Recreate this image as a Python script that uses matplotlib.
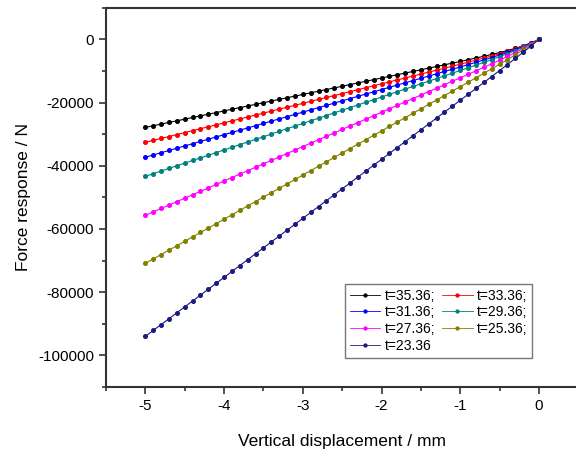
import matplotlib
matplotlib.use('Agg')
import matplotlib.pyplot as plt
from matplotlib.ticker import MultipleLocator

plt.rcParams['font.family'] = ['Liberation Sans', 'DejaVu Sans']
plt.rcParams['axes.unicode_minus'] = False

# vertical displacement (mm)
disp = [-5.0, -4.9, -4.8, -4.7, -4.6, -4.5, -4.4, -4.3, -4.2, -4.1,
        -4.0, -3.9, -3.8, -3.7, -3.6, -3.5, -3.4, -3.3, -3.2, -3.1,
        -3.0, -2.9, -2.8, -2.7, -2.6, -2.5, -2.4, -2.3, -2.2, -2.1,
        -2.0, -1.9, -1.8, -1.7, -1.6, -1.5, -1.4, -1.3, -1.2, -1.1,
        -1.0, -0.9, -0.8, -0.7, -0.6, -0.5, -0.4, -0.3, -0.2, -0.1, 0.0]

# force response (N) for each thickness
f_3536 = [-27850, -27330, -26810, -26290, -25770, -25250, -24720, -24200, -23680, -23160,
          -22640, -22120, -21600, -21080, -20560, -20040, -19510, -18990, -18470, -17950,
          -17430, -16910, -16390, -15870, -15350, -14830, -14300, -13780, -13260, -12740,
          -12220, -11700, -11180, -10660, -10140, -9620, -9090, -8570, -8040, -7510,
          -6980, -6440, -5890, -5340, -4760, -4160, -3520, -2820, -2030, -1120, 0]
f_3336 = [-32600, -31980, -31360, -30750, -30130, -29510, -28890, -28270, -27660, -27040,
          -26420, -25800, -25180, -24570, -23950, -23330, -22710, -22090, -21480, -20860,
          -20240, -19620, -19000, -18390, -17770, -17150, -16530, -15910, -15300, -14680,
          -14060, -13440, -12820, -12210, -11590, -10970, -10350, -9730, -9100, -8480,
          -7850, -7220, -6570, -5920, -5250, -4560, -3830, -3040, -2170, -1180, 0]
f_3136 = [-37300, -36590, -35870, -35160, -34440, -33730, -33020, -32300, -31590, -30870,
          -30160, -29450, -28730, -28020, -27300, -26590, -25880, -25160, -24450, -23730,
          -23020, -22310, -21590, -20880, -20160, -19450, -18740, -18020, -17310, -16590,
          -15880, -15170, -14450, -13740, -13020, -12310, -11600, -10880, -10160, -9440,
          -8710, -7980, -7250, -6500, -5740, -4950, -4130, -3260, -2310, -1240, 0]
f_2936 = [-43350, -42510, -41680, -40840, -40000, -39170, -38330, -37490, -36650, -35820,
          -34980, -34140, -33310, -32470, -31630, -30800, -29960, -29120, -28280, -27450,
          -26610, -25770, -24940, -24100, -23260, -22430, -21590, -20750, -19910, -19080,
          -18240, -17400, -16570, -15730, -14890, -14060, -13220, -12380, -11530, -10690,
          -9840, -8990, -8140, -7270, -6390, -5480, -4550, -3560, -2500, -1330, 0]
f_2736 = [-55700, -54610, -53520, -52440, -51350, -50260, -49170, -48080, -47000, -45910,
          -44820, -43730, -42640, -41560, -40470, -39380, -38290, -37200, -36120, -35030,
          -33940, -32850, -31760, -30680, -29590, -28500, -27410, -26320, -25240, -24150,
          -23060, -21970, -20880, -19800, -18710, -17620, -16530, -15440, -14350, -13250,
          -12160, -11060, -9950, -8840, -7710, -6570, -5390, -4170, -2890, -1520, 0]
f_2536 = [-70900, -69500, -68100, -66710, -65310, -63910, -62510, -61110, -59720, -58320,
          -56920, -55520, -54120, -52730, -51330, -49930, -48530, -47130, -45740, -44340,
          -42940, -41540, -40140, -38750, -37350, -35950, -34550, -33150, -31760, -30360,
          -28960, -27560, -26160, -24770, -23370, -21970, -20570, -19170, -17770, -16370,
          -14960, -13560, -12140, -10730, -9300, -7860, -6390, -4890, -3350, -1730, 0]
f_2336 = [-94000, -92130, -90260, -88400, -86530, -84660, -82790, -80920, -79060, -77190,
          -75320, -73450, -71580, -69720, -67850, -65980, -64110, -62240, -60380, -58510,
          -56640, -54770, -52900, -51040, -49170, -47300, -45430, -43560, -41700, -39830,
          -37960, -36090, -34220, -32360, -30490, -28620, -26750, -24880, -23010, -21140,
          -19270, -17400, -15520, -13640, -11750, -9860, -7950, -6020, -4070, -2070, 0]

labels = ['t=35.36;', 't=33.36;', 't=31.36;', 't=29.36;', 't=27.36;', 't=25.36;', 't=23.36']
series = [f_3536, f_3336, f_3136, f_2936, f_2736, f_2536, f_2336]
colours = ['#000000', '#ff0000', '#0000ff', '#008080', '#ff00ff', '#808000', '#1a1a80']

fig = plt.figure(figsize=(5.76, 4.59), dpi=100)
ax = fig.add_axes([0.184, 0.157, 0.82, 0.826])

lines = []
for f, lab, c in zip(series, labels, colours):
    ln, = ax.plot(disp, f, color=c, lw=0.8, marker='o', ms=2.6, mec=c, mfc=c, label=lab)
    lines.append(ln)

ax.set_xlim(-5.5, 0.5)
ax.set_ylim(-110000, 10000)
ax.xaxis.set_major_locator(MultipleLocator(1))
ax.xaxis.set_minor_locator(MultipleLocator(0.5))
ax.yaxis.set_major_locator(MultipleLocator(20000))
ax.yaxis.set_minor_locator(MultipleLocator(10000))
ax.tick_params(which='both', direction='out', top=False, right=False,
               color='#333333', width=1.2, labelsize=11)
ax.tick_params(which='major', length=5)
ax.tick_params(which='minor', length=3)
for sp in ax.spines.values():
    sp.set_color('#333333')
    sp.set_linewidth(1.5)

ax.set_xlabel('Vertical displacement / mm', fontsize=12.5, labelpad=15)
ax.set_ylabel('Force response / N', fontsize=12.5, labelpad=5)

# legend filled row by row, as in the original
order = [0, 2, 4, 6, 1, 3, 5]
leg = ax.legend([lines[i] for i in order], [labels[i] for i in order],
                ncol=2, loc='lower left', bbox_to_anchor=(0.506, 0.077),
                borderaxespad=0, fontsize=10, numpoints=1, handlelength=2.2,
                handletextpad=0.3, columnspacing=0.5, labelspacing=0.2,
                borderpad=0.35, fancybox=False, framealpha=1, markerscale=0.8)
leg.get_frame().set_edgecolor('#777777')
leg.get_frame().set_linewidth(1.0)
for h in leg.legend_handles:
    h.set_linewidth(0.6)

fig.savefig('out.png', dpi=100)
